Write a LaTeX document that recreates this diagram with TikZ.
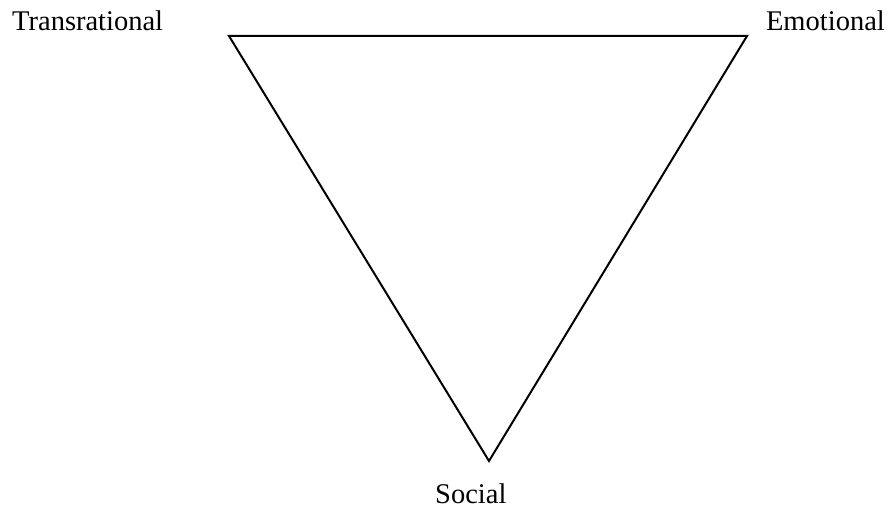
\documentclass[tikz,border=0pt]{standalone}
\usepackage{fontspec}
\setmainfont{Liberation Serif}
\usetikzlibrary{positioning}
\tikzset{
  edge/.style={draw=black,line width=2pt,line join=miter},   % triangle side
  pole/.style={font=\fontsize{28.5}{32}\selectfont,inner sep=0pt},% corner label
}

\begin{document}
\begin{tikzpicture}[x=1pt,y=1pt]
  \useasboundingbox (0,0) rectangle (889,510);
  % corners
  \coordinate (trans) at (229,474);
  \coordinate (emo) at (747,474);
  \coordinate (soc) at (489,49);
  \draw[edge] (trans) -- (emo) -- (soc) -- cycle;
  % labels
  \node[pole,anchor=base west] (ltrans) at (12,479) {Transrational};
  \node[pole,anchor=base east] (lemo) at (885,479) {Emotional};
  \node[pole,anchor=base west] (lsoc) at (435,6) {Social};
\end{tikzpicture}
\end{document}
